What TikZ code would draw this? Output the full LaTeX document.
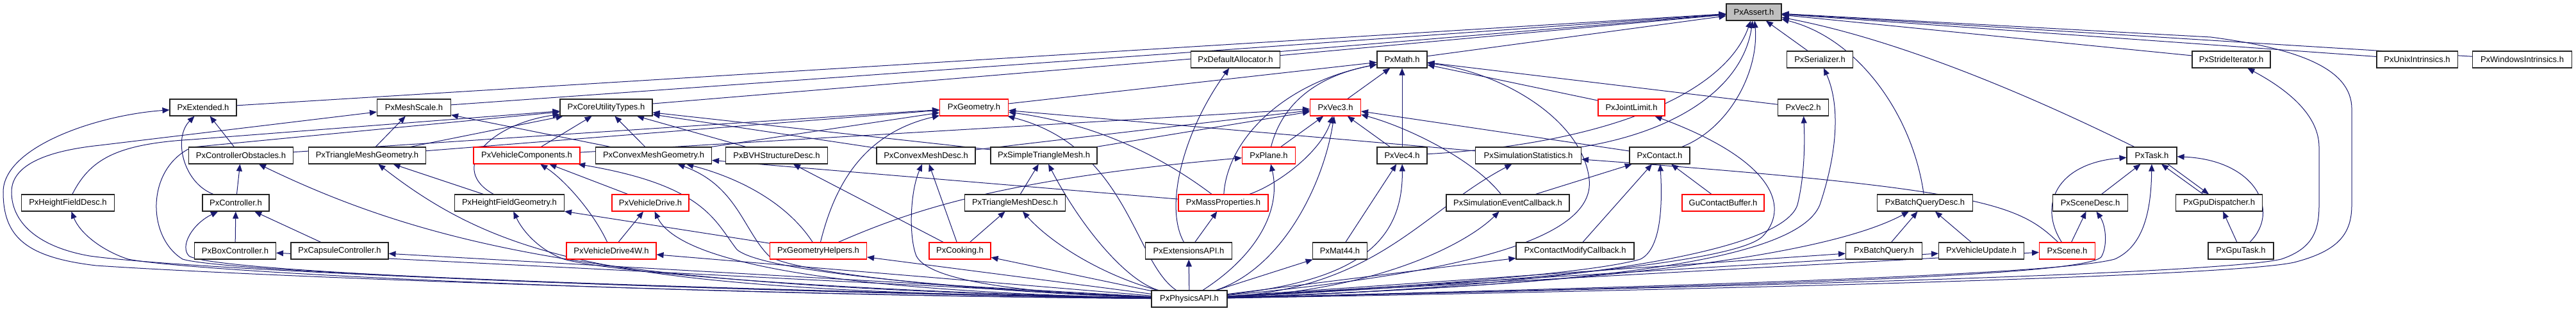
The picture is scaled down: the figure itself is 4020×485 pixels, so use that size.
\documentclass[tikz,border=0pt]{standalone}
\usepackage{fontspec}
\setmainfont{Liberation Sans}
\usetikzlibrary{arrows.meta}
\definecolor{edgeblue}{HTML}{191970}
\definecolor{nodered}{HTML}{FF0000}
\definecolor{assertgray}{HTML}{BFBFBF}
\definecolor{boxline}{HTML}{222222}
\pgfdeclarelayer{bg}
\pgfdeclarelayer{edges}
\pgfsetlayers{bg,edges,main}
\begin{document}
\begin{tikzpicture}[x=1pt,y=-1pt,
  box/.style={draw=boxline, line width=1.1pt, fill=white, minimum height=26pt, inner sep=0pt, font=\fontsize{13}{15}\selectfont},
  redbox/.style={box, draw=nodered},
  inc/.style={draw=edgeblue, line width=1pt, -{Triangle[length=11pt,width=9pt]}},
]
\begin{pgfonlayer}{bg}
\fill[white] (0,0) rectangle (4020,485);
\end{pgfonlayer}
\useasboundingbox (0,0) rectangle (4020,485);

% row 0
\node[box, minimum width=86pt, fill=assertgray] (assert) at (2737,19) {PxAssert.h};
% row 1
\node[box, minimum width=139pt] (defalloc) at (1928,93) {PxDefaultAllocator.h};
\node[box, minimum width=78pt] (math) at (2188,93) {PxMath.h};
\node[box, minimum width=103pt] (serializer) at (2840,93) {PxSerializer.h};
\node[box, minimum width=122pt] (stride) at (3482,93) {PxStrideIterator.h};
\node[box, minimum width=126pt] (unix) at (3772,93) {PxUnixIntrinsics.h};
\node[box, minimum width=155pt] (windows) at (3936,93) {PxWindowsIntrinsics.h};
% row 2
\node[box, minimum width=104pt] (extended) at (317,168) {PxExtended.h};
\node[box, minimum width=115pt] (meshscale) at (646,168) {PxMeshScale.h};
\node[box, minimum width=144pt] (coreutil) at (946,168) {PxCoreUtilityTypes.h};
\node[redbox, minimum width=107pt] (geometry) at (1520,168) {PxGeometry.h};
\node[redbox, minimum width=79pt] (vecthree) at (2084,168) {PxVec3.h};
\node[redbox, minimum width=104pt] (jointlimit) at (2546,168) {PxJointLimit.h};
\node[box, minimum width=79pt] (vectwo) at (2814,168) {PxVec2.h};
% row 3
\node[box, minimum width=163pt] (ctrlobst) at (376,243) {PxControllerObstacles.h};
\node[box, minimum width=183pt] (trimeshgeom) at (573,243) {PxTriangleMeshGeometry.h};
\node[redbox, minimum width=166pt] (vehcomp) at (822,243) {PxVehicleComponents.h};
\node[box, minimum width=181pt] (convexgeom) at (1020,243) {PxConvexMeshGeometry.h};
\node[box, minimum width=159pt] (bvh) at (1212,243) {PxBVHStructureDesc.h};
\node[box, minimum width=154pt] (convexdesc) at (1445,243) {PxConvexMeshDesc.h};
\node[box, minimum width=166pt] (simpletri) at (1629,243) {PxSimpleTriangleMesh.h};
\node[redbox, minimum width=83pt] (plane) at (1980,243) {PxPlane.h};
\node[box, minimum width=78pt] (vecfour) at (2188,243) {PxVec4.h};
\node[box, minimum width=165pt] (simstats) at (2385,243) {PxSimulationStatistics.h};
\node[box, minimum width=94pt] (contact) at (2590,243) {PxContact.h};
\node[box, minimum width=78pt] (task) at (3358,243) {PxTask.h};
% row 4
\node[box, minimum width=145pt] (hfdesc) at (106,317) {PxHeightFieldDesc.h};
\node[box, minimum width=104pt] (controller) at (368,317) {PxController.h};
\node[box, minimum width=171pt] (hfgeom) at (795,317) {PxHeightFieldGeometry.h};
\node[redbox, minimum width=120pt] (vehdrive) at (1015,317) {PxVehicleDrive.h};
\node[box, minimum width=157pt] (tridesc) at (1584,317) {PxTriangleMeshDesc.h};
\node[redbox, minimum width=140pt] (massprops) at (1909,317) {PxMassProperties.h};
\node[box, minimum width=192pt] (simevent) at (2353,317) {PxSimulationEventCallback.h};
\node[redbox, minimum width=128pt] (gucontact) at (2689,317) {GuContactBuffer.h};
\node[box, minimum width=149pt] (bqdesc) at (3004,317) {PxBatchQueryDesc.h};
\node[box, minimum width=117pt] (scenedesc) at (3262,317) {PxSceneDesc.h};
\node[box, minimum width=135pt] (gpudisp) at (3463,317) {PxGpuDispatcher.h};
% row 5
\node[box, minimum width=127pt] (boxctrl) at (367,392) {PxBoxController.h};
\node[box, minimum width=152pt] (capsule) at (530,392) {PxCapsuleController.h};
\node[redbox, minimum width=140pt] (vehdrive4w) at (954,392) {PxVehicleDrive4W.h};
\node[redbox, minimum width=151pt] (geomhelpers) at (1277,392) {PxGeometryHelpers.h};
\node[redbox, minimum width=96pt] (cooking) at (1498,392) {PxCooking.h};
\node[box, minimum width=135pt] (extapi) at (1855,392) {PxExtensionsAPI.h};
\node[box, minimum width=85pt] (mat44) at (2091,392) {PxMat44.h};
\node[box, minimum width=184pt] (contactmod) at (2458,392) {PxContactModifyCallback.h};
\node[box, minimum width=119pt] (batchquery) at (2940,392) {PxBatchQuery.h};
\node[box, minimum width=133pt] (vehupdate) at (3092,392) {PxVehicleUpdate.h};
\node[redbox, minimum width=87pt] (scene) at (3226,392) {PxScene.h};
\node[box, minimum width=102pt] (gputask) at (3497,392) {PxGpuTask.h};
% row 6
\node[box, minimum width=118pt] (physapi) at (1856,467) {PxPhysicsAPI.h};

\begin{pgfonlayer}{edges}
% into PxAssert
\draw[inc] (extended) -- (assert);
\draw[inc] (meshscale) -- (assert);
\draw[inc] (coreutil) -- (assert);
\draw[inc] (defalloc) -- (assert);
\draw[inc] (math) -- (assert);
\draw[inc] (serializer) -- (assert);
\draw[inc] (stride) -- (assert);
\draw[inc] (unix) -- (assert);
\draw[inc] (windows) -- (assert);
\draw[inc] (vecfour) .. controls (2500,225) and (2690,150) .. (assert);
\draw[inc] (simstats) .. controls (2620,205) and (2720,135) .. (assert);
\draw[inc] (contact) .. controls (2700,200) and (2745,110) .. (assert);
\draw[inc] (bqdesc) .. controls (2985,180) and (2900,60) .. (assert);
\draw[inc] (task) .. controls (3200,165) and (2980,65) .. (assert);
% into PxMath
\draw[inc] (geometry) -- (math);
\draw[inc] (plane) .. controls (2000,165) and (2050,120) .. (math);
\draw[inc] (massprops) .. controls (1915,220) and (2000,130) .. (math);
\draw[inc] (vecthree) -- (math);
\draw[inc] (vecfour) -- (math);
\draw[inc] (jointlimit) -- (math);
\draw[inc] (vectwo) -- (math);
\draw[inc] (extapi) .. controls (1815,320) and (1850,200) .. (defalloc);
% controller group
\draw[inc] (controller) .. controls (285,285) and (270,215) .. (extended);
\draw[inc] (ctrlobst) -- (extended);
\draw[inc] (controller) -- (ctrlobst);
\draw[inc] (boxctrl) -- (controller);
\draw[inc] (capsule) -- (controller);
% mesh scale / core utility
\draw[inc] (trimeshgeom) -- (meshscale);
\draw[inc] (convexgeom) -- (meshscale);
\draw[inc] (hfdesc) .. controls (140,250) and (180,225) .. (300,218) -- (coreutil);
\draw[inc] (trimeshgeom) -- (coreutil);
\draw[inc] (hfgeom) .. controls (700,265) and (760,195) .. (coreutil);
\draw[inc] (vehcomp) -- (coreutil);
\draw[inc] (convexgeom) -- (coreutil);
\draw[inc] (bvh) -- (coreutil);
\draw[inc] (convexdesc) -- (coreutil);
\draw[inc] (simpletri) -- (coreutil);
% geometry
\draw[inc] (trimeshgeom) -- (geometry);
\draw[inc] (convexgeom) -- (geometry);
\draw[inc] (ctrlobst) -- (geometry);
\draw[inc] (geomhelpers) .. controls (1300,300) and (1340,210) .. (geometry);
\draw[inc] (massprops) .. controls (1820,250) and (1720,195) .. (geometry);
\draw[inc] (simstats) -- (geometry);
% vec3
\draw[inc] (vehcomp) -- (vecthree);
\draw[inc] (convexdesc) -- (vecthree);
\draw[inc] (simpletri) -- (vecthree);
\draw[inc] (plane) -- (vecthree);
\draw[inc] (massprops) .. controls (1990,290) and (2060,240) .. (vecthree);
\draw[inc] (vecfour) -- (vecthree);
\draw[inc] (contact) -- (vecthree);
\draw[inc] (simevent) .. controls (2300,250) and (2200,200) .. (vecthree);
\draw[inc] (mat44) -- (vecfour);
% contact
\draw[inc] (simevent) -- (contact);
\draw[inc] (contactmod) -- (contact);
\draw[inc] (gucontact) -- (contact);
% scene / task
\draw[inc] (scene) .. controls (3150,320) and (3100,295) .. (simstats);
\draw[inc] (scene) -- (scenedesc);
\draw[inc] (scene) .. controls (3180,320) and (3210,255) .. (task);
\draw[inc] (scenedesc) -- (task);
\draw[inc] (batchquery) -- (bqdesc);
\draw[inc] (vehupdate) -- (bqdesc);
\draw[inc] ([xshift=-25pt]gpudisp.north) -- ([xshift=15pt]task.south);
\draw[inc] ([xshift=25pt]task.south) -- ([xshift=-16pt]gpudisp.north);
\draw[inc] (gputask) -- (gpudisp);
\draw[inc] (gputask) .. controls (3560,330) and (3520,250) .. (task);
% vehicle
\draw[inc] (vehdrive) -- (vehcomp);
\draw[inc] (vehdrive4w) .. controls (925,330) and (880,280) .. (vehcomp);
\draw[inc] (vehdrive4w) -- (vehdrive);
% geometry helpers / cooking
\draw[inc] (geomhelpers) -- (hfgeom);
\draw[inc] (geomhelpers) .. controls (1230,320) and (1160,280) .. (convexgeom);
\draw[inc] (geomhelpers) .. controls (1420,330) and (1560,280) .. (plane);
\draw[inc] (hfgeom) -- (trimeshgeom);
\draw[inc] (cooking) -- (convexdesc);
\draw[inc] (cooking) -- (tridesc);
\draw[inc] (cooking) -- (bvh);
\draw[inc] (tridesc) -- (simpletri);
\draw[inc] (extapi) -- (massprops);
\draw[inc] (massprops) -- (convexgeom);
% from PxPhysicsAPI
\draw[inc] (physapi) .. controls (1200,462) and (400,432) .. (150,415) .. controls (40,402) and (5,370) .. (5,300) .. controls (5,230) and (150,180) .. (extended);
\draw[inc] (physapi) .. controls (1200,458) and (320,425) .. (140,400) .. controls (55,385) and (18,345) .. (18,300) .. controls (18,255) and (80,235) .. (156,227) -- (meshscale);
\draw[inc] (physapi) .. controls (1000,460) and (300,425) .. (200,405) .. controls (160,392) and (125,365) .. (hfdesc);
\draw[inc] (physapi) .. controls (1200,455) and (360,428) .. (285,405) .. controls (228,370) and (228,262) .. (300,230) -- (coreutil);
\draw[inc] (physapi) .. controls (1000,452) and (330,425) .. (295,400) .. controls (280,385) and (300,350) .. (controller);
\draw[inc] (physapi) .. controls (1000,450) and (700,400) .. (ctrlobst);
\draw[inc] (physapi) -- (boxctrl);
\draw[inc] (physapi) -- (capsule);
\draw[inc] (physapi) .. controls (1000,455) and (800,420) .. (trimeshgeom);
\draw[inc] (physapi) .. controls (1300,455) and (950,425) .. (880,405) .. controls (840,390) and (815,360) .. (hfgeom);
\draw[inc] (physapi) .. controls (1500,452) and (1190,425) .. (1150,390) .. controls (1115,345) and (1100,290) .. (vehcomp);
\draw[inc] (physapi) .. controls (1300,455) and (1060,410) .. (vehdrive);
\draw[inc] (physapi) -- (vehdrive4w);
\draw[inc] (physapi) .. controls (1500,455) and (1235,425) .. (1200,400) .. controls (1160,360) and (1150,290) .. (convexgeom);
\draw[inc] (physapi) -- (geomhelpers);
\draw[inc] (physapi) -- (cooking);
\draw[inc] (physapi) .. controls (1600,458) and (1450,440) .. (1430,400) .. controls (1418,370) and (1420,300) .. (convexdesc);
\draw[inc] (physapi) .. controls (1720,430) and (1640,380) .. (tridesc);
\draw[inc] (physapi) .. controls (1760,440) and (1690,360) .. (simpletri);
\draw[inc] (physapi) .. controls (1770,410) and (1760,230) .. (geometry);
\draw[inc] (physapi) -- (extapi);
\draw[inc] (physapi) .. controls (1960,400) and (2000,330) .. (plane);
\draw[inc] (physapi) .. controls (2000,420) and (2065,290) .. (vecthree);
\draw[inc] (physapi) .. controls (2300,425) and (2490,370) .. (2480,280) .. controls (2470,190) and (2350,115) .. (math);
\draw[inc] (physapi) .. controls (2100,440) and (2190,390) .. (vecfour);
\draw[inc] (physapi) -- (mat44);
\draw[inc] (physapi) .. controls (2150,450) and (2220,330) .. (simstats);
\draw[inc] (physapi) .. controls (2150,455) and (2290,380) .. (simevent);
\draw[inc] (physapi) -- (contactmod);
\draw[inc] (physapi) .. controls (2200,448) and (2480,428) .. (2560,405) .. controls (2590,390) and (2595,330) .. (contact);
\draw[inc] (physapi) .. controls (2300,445) and (2700,415) .. (2750,370) .. controls (2790,330) and (2780,255) .. (jointlimit);
\draw[inc] (physapi) .. controls (2400,447) and (2800,420) .. (2840,320) .. controls (2870,230) and (2870,160) .. (serializer);
\draw[inc] (physapi) .. controls (2400,450) and (2780,400) .. (2805,320) .. controls (2815,280) and (2817,230) .. (vectwo);
\draw[inc] (physapi) .. controls (2500,445) and (2850,400) .. (bqdesc);
\draw[inc] (physapi) -- (batchquery);
\draw[inc] (physapi) -- (vehupdate);
\draw[inc] (physapi) -- (scene);
\draw[inc] (physapi) .. controls (2700,447) and (3270,432) .. (3280,400) .. controls (3290,380) and (3285,350) .. (scenedesc);
\draw[inc] (physapi) .. controls (2500,450) and (3200,432) .. (3300,405) .. controls (3345,385) and (3357,330) .. (task);
\draw[inc] (physapi) .. controls (2600,450) and (3450,430) .. (3560,405) .. controls (3610,388) and (3619,360) .. (3619,320) -- (3619,230) .. controls (3619,180) and (3570,140) .. (stride);
\draw[inc] (physapi) .. controls (2700,452) and (3480,432) .. (3580,410) .. controls (3650,392) and (3670,365) .. (3670,320) -- (3670,170) .. controls (3670,105) and (3580,75) .. (3450,58) -- (assert);
\end{pgfonlayer}
\end{tikzpicture}
\end{document}
